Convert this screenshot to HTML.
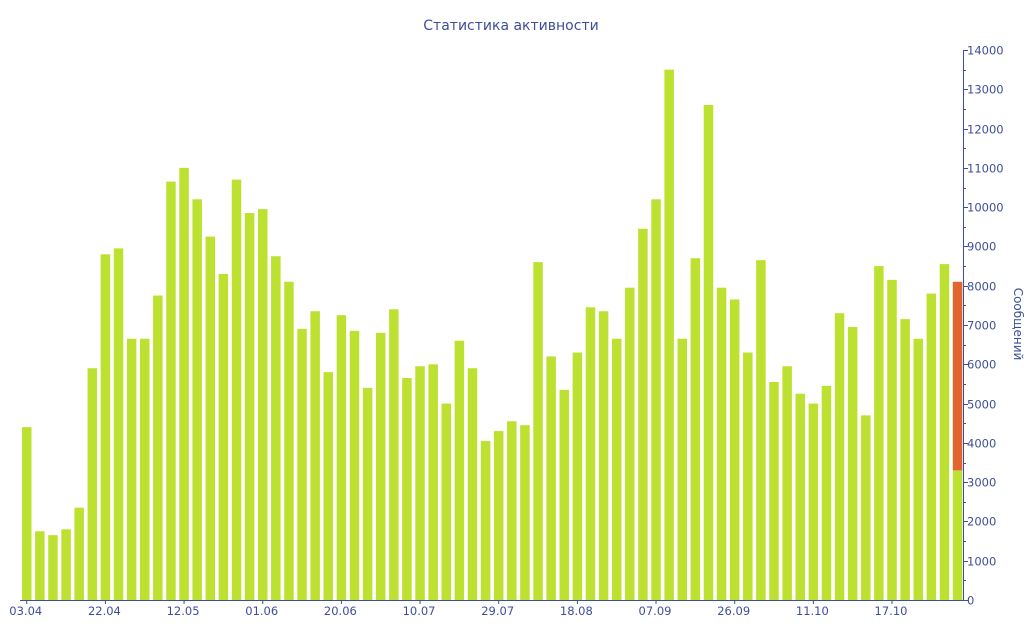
<!DOCTYPE html>
<html><head><meta charset="utf-8"><style>body{margin:0;background:#fff}svg{display:block}text{font-family:"DejaVu Sans","Liberation Sans",sans-serif;fill:#3d4f98}</style></head><body>
<svg id="s" width="1024" height="640" xmlns="http://www.w3.org/2000/svg">
<text x="511" y="30" font-size="14" text-anchor="middle">Статистика активности</text>
<g id="bands"></g><g id="bars"></g><g id="ax"></g>
<text transform="translate(1014,324) rotate(90)" font-size="12" text-anchor="middle">Сообщений</text>
</svg>
<script>
const v=[4400,1750,1650,1800,2350,5900,8800,8950,6650,6650,7750,10650,11000,10200,9250,8300,10700,9850,9950,8750,8100,6900,7350,5800,7250,6850,5400,6800,7400,5650,5950,6000,5000,6600,5900,4050,4300,4550,4450,8600,6200,5350,6300,7450,7350,6650,7950,9450,10200,13500,6650,8700,12600,7950,7650,6300,8650,5550,5950,5250,5000,5450,7300,6950,4700,8500,8150,7150,6650,7800,8550,3300];
const Y=x=>600-x*550/14000;const NS="http://www.w3.org/2000/svg";
function el(p,t,a,txt){const e=document.createElementNS(NS,t);for(const k in a)e.setAttribute(k,a[k]);if(txt)e.textContent=txt;document.getElementById(p).appendChild(e);}
for(let k=1;k<14;k+=2)el("bands","rect",{x:20,y:Y(k+1),width:943,height:Y(k)-Y(k+1),fill:"#f6f6f6"});
v.forEach((h,i)=>{const x=22+i*13.11;el("bars","rect",{x:x,y:Y(h),width:9.5,height:600-Y(h),fill:"#bde130"});});
el("bars","rect",{x:22+71*13.11,y:Y(8100),width:9.5,height:Y(3300)-Y(8100),fill:"#e2652f"});
el("ax","line",{x1:20,y1:600.5,x2:963,y2:600.5,stroke:"#3d4f98","stroke-width":1});
el("ax","line",{x1:963.5,y1:50,x2:963.5,y2:600,stroke:"#3d4f98","stroke-width":1});
for(let k=0;k<=28;k++){const y=Math.round(Y(k*500))+.5;el("ax","line",{x1:963,y1:y,x2:k%2?966:968,y2:y,stroke:"#3d4f98"});if(k%2==0)el("ax","text",{x:967,y:y+4,"font-size":11.5},String(k*500));}
const L=["03.04","22.04","12.05","01.06","20.06","10.07","29.07","18.08","07.09","26.09","11.10","17.10"];
L.forEach((t,j)=>{const x=26.75+j*6*13.11;el("ax","line",{x1:x,y1:600,x2:x,y2:604,stroke:"#3d4f98"});el("ax","text",{x:x-1,y:615,"font-size":11.5,"text-anchor":"middle"},t);});
</script></body></html>
